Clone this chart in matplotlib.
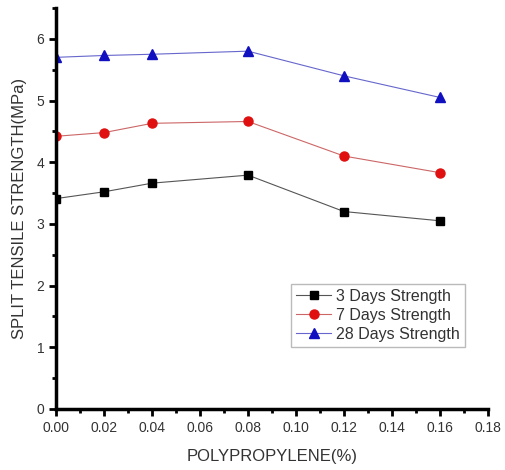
import matplotlib
matplotlib.use("Agg")
import matplotlib.pyplot as plt
from matplotlib.ticker import MultipleLocator

plt.rcParams['font.family'] = ['Liberation Sans', 'DejaVu Sans']

x = [0.00, 0.02, 0.04, 0.08, 0.12, 0.16]
s3 = [3.41, 3.52, 3.66, 3.79, 3.20, 3.05]
s7 = [4.42, 4.48, 4.63, 4.66, 4.10, 3.83]
s28 = [5.70, 5.73, 5.75, 5.80, 5.40, 5.05]
labels = ["3 Days Strength", "7 Days Strength", "28 Days Strength"]

fig = plt.figure(figsize=(5.06, 4.70), dpi=100)
ax = fig.add_axes([0.111, 0.130, 0.853, 0.853])

ax.plot(x, s3, color='#555555', lw=0.8, marker='s', ms=6, mfc='black', mec='black', label=labels[0])
ax.plot(x, s7, color='#cc6666', lw=0.8, marker='o', ms=6.5, mfc='#e01010', mec='#e01010', label=labels[1])
ax.plot(x, s28, color='#6666cc', lw=0.8, marker='^', ms=6.5, mfc='#1010c0', mec='#1010c0', label=labels[2])

ax.set_xlim(0, 0.18)
ax.set_ylim(0, 6.5)
ax.xaxis.set_major_locator(MultipleLocator(0.02))
ax.xaxis.set_minor_locator(MultipleLocator(0.01))
ax.yaxis.set_major_locator(MultipleLocator(1))
ax.yaxis.set_minor_locator(MultipleLocator(0.5))
ax.set_xticklabels([f"{v:.2f}" for v in ax.get_xticks()])
for sp in ['top', 'right']:
    ax.spines[sp].set_visible(False)
for sp in ['left', 'bottom']:
    ax.spines[sp].set_linewidth(2.5)
ax.tick_params(which='major', direction='out', length=5, width=2, labelsize=10, colors='black', labelcolor='#333333')
ax.tick_params(which='minor', direction='out', length=3, width=2)

ax.set_xlabel("POLYPROPYLENE(%)", fontsize=12, color='#333333', labelpad=10)
ax.set_ylabel("SPLIT TENSILE STRENGTH(MPa)", fontsize=12, color='#333333', labelpad=7)

leg = ax.legend(loc='lower left', bbox_to_anchor=(0.545, 0.155), fontsize=11.5, frameon=True,
                fancybox=False, edgecolor='#aaaaaa', handlelength=2.2, handletextpad=0.3,
                borderpad=0.3, labelspacing=0.25, borderaxespad=0)
for t in leg.get_texts():
    t.set_color('#333333')

fig.savefig("out.png", dpi=100)
